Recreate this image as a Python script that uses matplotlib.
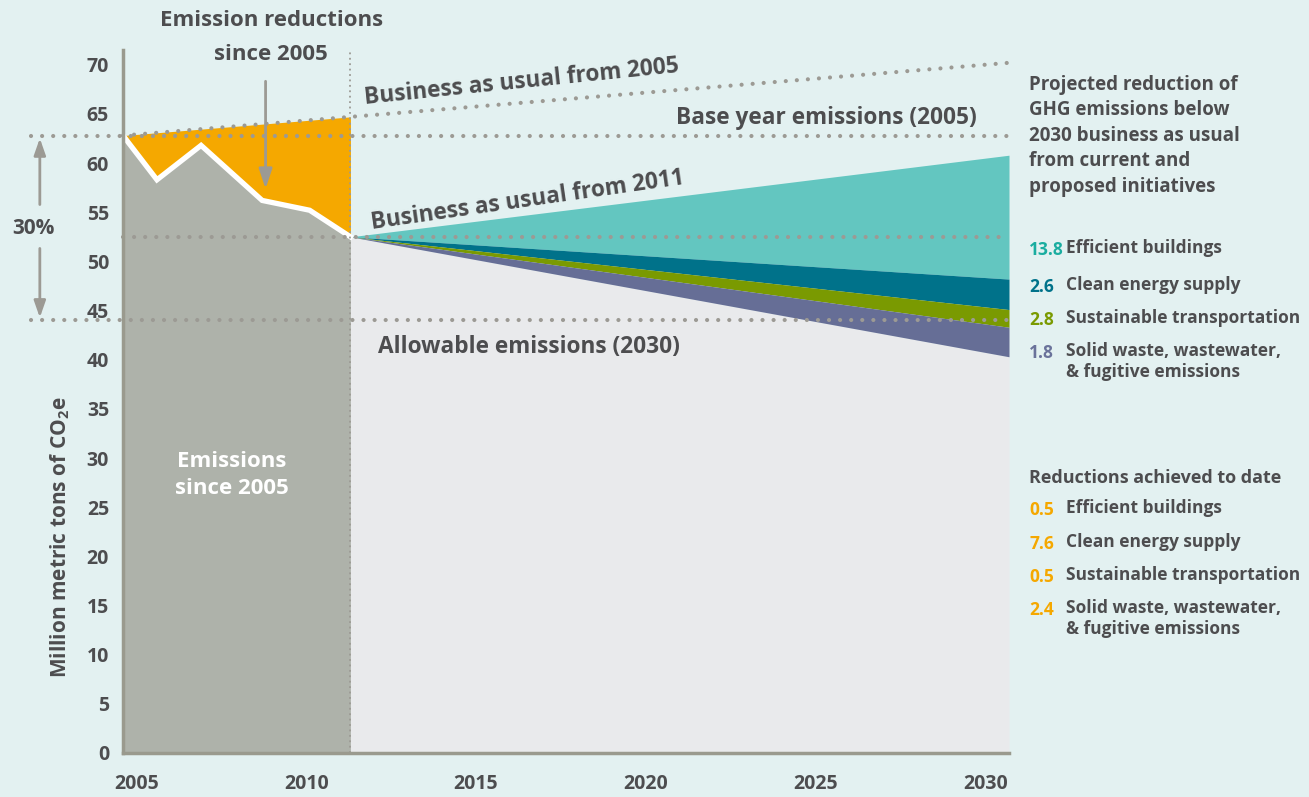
import matplotlib
matplotlib.use("Agg")
import matplotlib.pyplot as plt

W, H = 1309, 797

# ── data (million metric tons CO2e) ───────────────────────────
hist_years = [2004.6, 2005.6, 2006.9, 2008.7, 2010.1, 2011.3]
hist_emissions = [62.8, 58.3, 61.8, 56.2, 55.2, 52.5]

bau2005_years = [2004.6, 2030.7]
bau2005 = [62.8, 70.2]

proj_years = [2011.3, 2030.7]
bau2011 = [52.5, 60.8]
after_buildings = [52.5, 48.2]
after_energy = [52.5, 45.1]
after_transport = [52.5, 43.3]
after_waste = [52.5, 40.3]

base_year = 62.8
allowable = 44.0

projected_vals = ["13.8", "2.6", "2.8", "1.8"]
projected_names = ["Efficient buildings", "Clean energy supply",
                   "Sustainable transportation",
                   "Solid waste, wastewater,\n& fugitive emissions"]
achieved_vals = ["0.5", "7.6", "0.5", "2.4"]
achieved_names = projected_names

x_ticks = [2005, 2010, 2015, 2020, 2025, 2030]
y_ticks = list(range(0, 71, 5))

# ── style ─────────────────────────────────────────────────────
BG = "#E3F1F1"
TXT = "#4D4D4F"
DOT = "#9C9A94"
GRAY = "#AEB2AA"
LIGHT = "#E9EAEC"
ORANGE = "#F5A800"
TEAL = "#63C6C0"
DTEAL = "#00728A"
GREEN = "#7A9A01"
PURPLE = "#666E96"
wedge_colors = [TEAL, DTEAL, GREEN, PURPLE]
num_colors = ["#1AADA0", DTEAL, GREEN, "#6A729A"]

plt.rcParams["font.family"] = ["Open Sans", "DejaVu Sans"]
plt.rcParams["font.weight"] = "bold"
plt.rcParams["mathtext.fontset"] = "custom"
plt.rcParams["mathtext.rm"] = "Open Sans:bold"
plt.rcParams["mathtext.default"] = "rm"

fig = plt.figure(figsize=(W / 100, H / 100), dpi=100, facecolor=BG)
ax = fig.add_axes([123 / W, 44 / H, 886 / W, 703 / H])
ax.set_facecolor(BG)
ax.set_xlim(2004.6, 2030.7)
ax.set_ylim(0, 71.5)


def px(x, y):
    return x / W, 1 - y / H


# fills
ax.fill_between(hist_years, 0, hist_emissions, color=GRAY, lw=0, zorder=1)
bau_hist = [bau2005[0] + (bau2005[1] - bau2005[0]) * (x - bau2005_years[0]) /
            (bau2005_years[1] - bau2005_years[0]) for x in hist_years]
ax.fill_between(hist_years, hist_emissions, bau_hist, color=ORANGE, lw=0, zorder=1)
ax.fill_between(proj_years, 0, after_waste, color=LIGHT, lw=0, zorder=1)
layers = [bau2011, after_buildings, after_energy, after_transport, after_waste]
for i, c in enumerate(wedge_colors):
    ax.fill_between(proj_years, layers[i + 1], layers[i], color=c, lw=0, zorder=2)

ax.plot(hist_years, hist_emissions, color="white", lw=3.8, zorder=4,
        solid_joinstyle="miter")

# dotted reference lines
dot_kw = dict(color=DOT, lw=3.0, ls=(0, (0.01, 2.65)), dash_capstyle="round",
              zorder=5, clip_on=False)
ax.plot(bau2005_years, bau2005, **dot_kw)
ax.plot([2001.9, 2030.7], [base_year, base_year], **dot_kw)
ax.plot([2004.6, 2030.7], [bau2011[0], bau2011[0]], **dot_kw)
ax.plot([2001.9, 2030.7], [allowable, allowable], **dot_kw)
ax.plot([proj_years[0], proj_years[0]], [0, 71.5], color=DOT, lw=1.3,
        ls=(0, (1, 2)), zorder=5, clip_on=False)

# axes styling
for s in ["top", "right"]:
    ax.spines[s].set_visible(False)
for s in ["left", "bottom"]:
    ax.spines[s].set_color("#9A9A8E")
    ax.spines[s].set_linewidth(2.5)
    ax.spines[s].set_zorder(6)
ax.set_xticks(x_ticks)
ax.set_yticks(y_ticks)
ax.tick_params(length=0, colors=TXT, labelsize=14)
ax.tick_params(axis="x", pad=15)
ax.tick_params(axis="y", pad=10)
for lab in ax.get_xticklabels() + ax.get_yticklabels():
    lab.set_fontweight("bold")
ax.set_ylabel("Million metric tons of CO$_2$e", fontsize=15, fontweight="bold",
              color=TXT)
ax.yaxis.set_label_coords(-0.058, 0.307)

# 30% arrow
ax.annotate("", xy=(2002.15, base_year), xytext=(2002.15, 55.5),
            arrowprops=dict(arrowstyle="-|>,head_width=0.35,head_length=1.0",
                            color=DOT, lw=2), annotation_clip=False)
ax.annotate("", xy=(2002.15, allowable), xytext=(2002.15, 51.6),
            arrowprops=dict(arrowstyle="-|>,head_width=0.35,head_length=1.0",
                            color=DOT, lw=2), annotation_clip=False)
fig.text(*px(33, 228), "30%", ha="center", va="center", fontsize=15,
         color=TXT, fontweight="bold")

# emission reductions annotation
fig.text(*px(272, 20), "Emission reductions", ha="center", va="center",
         fontsize=16, color=TXT, fontweight="bold")
fig.text(*px(271, 55), "since 2005", ha="center", va="center",
         fontsize=16, color=TXT, fontweight="bold")
ax.annotate("", xy=(2008.8, 57.1), xytext=(2008.8, 68.6),
            arrowprops=dict(arrowstyle="-|>,head_width=0.4,head_length=1.2",
                            color=DOT, lw=2), annotation_clip=False, zorder=7)

fig.text(*px(232, 475), "Emissions\nsince 2005", ha="center", va="center",
         fontsize=16, color="white", fontweight="bold", linespacing=1.4)

# line labels
fig.text(*px(522, 82), "Business as usual from 2005", ha="center", va="center",
         fontsize=16.3, color=TXT, fontweight="bold", rotation=5.8)
fig.text(*px(977, 118), "Base year emissions (2005)", ha="right", va="center",
         fontsize=16.3, color=TXT, fontweight="bold")
fig.text(*px(528, 201), "Business as usual from 2011", ha="center", va="center",
         fontsize=16.3, color=TXT, fontweight="bold", rotation=8.2)
fig.text(*px(378, 347), "Allowable emissions (2030)", ha="left", va="center",
         fontsize=16.3, color=TXT, fontweight="bold")

# right-hand panel
fig.text(*px(1029, 75), "Projected reduction of\nGHG emissions below\n"
         "2030 business as usual\nfrom current and\nproposed initiatives",
         ha="left", va="top", fontsize=13.5, color=TXT, fontweight="bold",
         linespacing=1.36)
proj_y = [250, 287, 320, 353]
for v, name, c, y in zip(projected_vals, projected_names, num_colors, proj_y):
    fig.text(*px(1029, y), v, ha="left", va="center", fontsize=12.5, color=c,
             fontweight="bold")
    fig.text(*px(1066, y - 11), name, ha="left", va="top", fontsize=12.5,
             color=TXT, fontweight="bold", linespacing=1.2)

fig.text(*px(1029, 478), "Reductions achieved to date", ha="left", va="center",
         fontsize=13, color=TXT, fontweight="bold")
ach_y = [510, 544, 577, 610]
for v, name, y in zip(achieved_vals, achieved_names, ach_y):
    fig.text(*px(1029, y), v, ha="left", va="center", fontsize=12.5, color=ORANGE,
             fontweight="bold")
    fig.text(*px(1066, y - 11), name, ha="left", va="top", fontsize=12.5,
             color=TXT, fontweight="bold", linespacing=1.2)

fig.savefig("out.png", dpi=100, facecolor=BG)
